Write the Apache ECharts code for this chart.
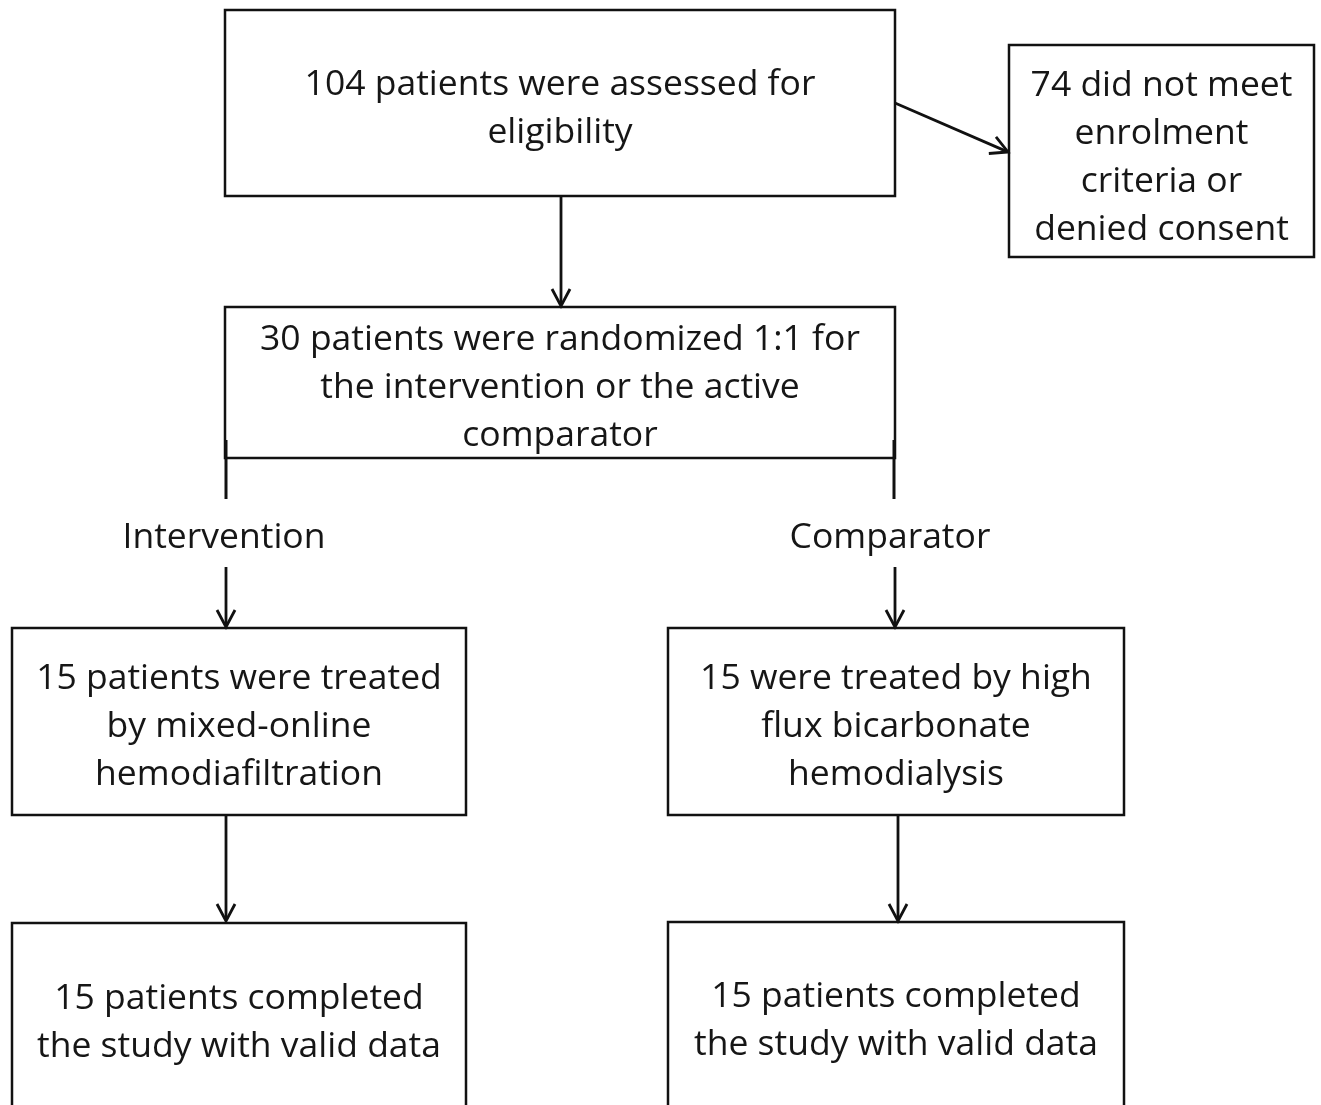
<!DOCTYPE html>
<html>
<head>
<meta charset="utf-8">
<script src="https://cdn.jsdelivr.net/npm/echarts@6/dist/echarts.min.js"></script>
<style>
html,body{margin:0;padding:0;background:#fff;}
#chart{width:1321px;height:1105px;}
</style>
</head>
<body>
<div id="chart"></div>
<script>
// ---- flowchart content ----
const boxTexts = [
  "104 patients were assessed for\neligibility",
  "74 did not meet\nenrolment\ncriteria or\ndenied consent",
  "30 patients were randomized 1:1 for\nthe intervention or the active\ncomparator",
  "15 patients were treated\nby mixed-online\nhemodiafiltration",
  "15 were treated by high\nflux bicarbonate\nhemodialysis",
  "15 patients completed\nthe study with valid data",
  "15 patients completed\nthe study with valid data"
];
// box corners in chart units (x grows right, y grows down)
const boxLeft   = [225, 1009, 225, 12, 668, 12, 668];
const boxTop    = [10, 45, 307, 628, 628, 923, 922];
const boxRight  = [895, 1314, 895, 466, 1124, 466, 1124];
const boxBottom = [196, 257, 458, 815, 815, 1125, 1125];
const textCenterY = [109, 158, 388, 727, 727, 1023, 1021];

const branchLabels = ["Intervention", "Comparator"];
const branchX = [224, 890];
const branchY = [538, 538];

const arrowStart = [[561,196],[895,103],[226,567],[895,567],[226,815],[898,815]];
const arrowEnd   = [[561,306],[1008,152],[226,627],[895,627],[226,921],[898,921]];
const plainStart = [[226,440],[894,440]];
const plainEnd   = [[226,499],[894,499]];

// ---- chart ----
const chart = echarts.init(document.getElementById('chart'));
const FONT = '35.5px "Open Sans", Lato, sans-serif';
const INK = '#111';
const TXT = '#161616';

const boxData = boxTexts.map((t,i)=>[boxLeft[i], boxTop[i], boxRight[i], boxBottom[i], textCenterY[i], i]);
const arrowData = arrowStart.map((s,i)=>[s[0], s[1], arrowEnd[i][0], arrowEnd[i][1]]);
const plainData = plainStart.map((s,i)=>[s[0], s[1], plainEnd[i][0], plainEnd[i][1]]);
const labelData = branchLabels.map((t,i)=>[branchX[i], branchY[i], i]);

chart.setOption({
  animation: false,
  grid: {left:0, right:0, top:0, bottom:0},
  xAxis: {type:'value', min:0, max:1321, show:false},
  yAxis: {type:'value', min:0, max:1105, inverse:true, show:false},
  series: [
    {
      type:'custom', coordinateSystem:'cartesian2d', silent:true,
      data: boxData,
      renderItem: function(params, api){
        const p0 = api.coord([api.value(0), api.value(1)]);
        const p1 = api.coord([api.value(2), api.value(3)]);
        const cx = (p0[0]+p1[0])/2;
        const cy = api.coord([0, api.value(4)])[1];
        const idx = api.value(5);
        return {
          type:'group',
          children:[
            {type:'rect', shape:{x:p0[0], y:p0[1], width:p1[0]-p0[0], height:p1[1]-p0[1]},
             style:{fill:'#fff', stroke:INK, lineWidth:2.5}},
            {type:'text', style:{text: boxTexts[idx], x:cx, y:cy, align:'center', verticalAlign:'middle',
              font: FONT, lineHeight:48, fill:TXT}}
          ]
        };
      }
    },
    {
      type:'custom', coordinateSystem:'cartesian2d', silent:true,
      data: labelData,
      renderItem: function(params, api){
        const p = api.coord([api.value(0), api.value(1)]);
        return {type:'text', style:{text: branchLabels[api.value(2)], x:p[0], y:p[1], align:'center', verticalAlign:'middle', font:FONT, fill:TXT}};
      }
    },
    {
      type:'custom', coordinateSystem:'cartesian2d', silent:true,
      data: plainData,
      renderItem: function(params, api){
        const a = api.coord([api.value(0), api.value(1)]);
        const b = api.coord([api.value(2), api.value(3)]);
        return {type:'line', shape:{x1:a[0], y1:a[1], x2:b[0], y2:b[1]}, style:{stroke:INK, lineWidth:3}};
      }
    },
    {
      type:'custom', coordinateSystem:'cartesian2d', silent:true,
      data: arrowData,
      renderItem: function(params, api){
        const a = api.coord([api.value(0), api.value(1)]);
        const b = api.coord([api.value(2), api.value(3)]);
        const ang = Math.atan2(b[1]-a[1], b[0]-a[0]);
        const L = 17, Wd = 9;
        const bx = b[0]-L*Math.cos(ang), by = b[1]-L*Math.sin(ang);
        const nx = -Math.sin(ang), ny = Math.cos(ang);
        return {
          type:'group',
          children:[
            {type:'line', shape:{x1:a[0], y1:a[1], x2:b[0]-1*Math.cos(ang), y2:b[1]-1*Math.sin(ang)}, style:{stroke:INK, lineWidth:2.8}},
            {type:'polyline', shape:{points:[[bx+nx*Wd, by+ny*Wd],[b[0],b[1]],[bx-nx*Wd, by-ny*Wd]]},
             style:{stroke:INK, lineWidth:2.8, fill:null, lineJoin:'miter'}}
          ]
        };
      }
    }
  ]
});
</script>
</body>
</html>
